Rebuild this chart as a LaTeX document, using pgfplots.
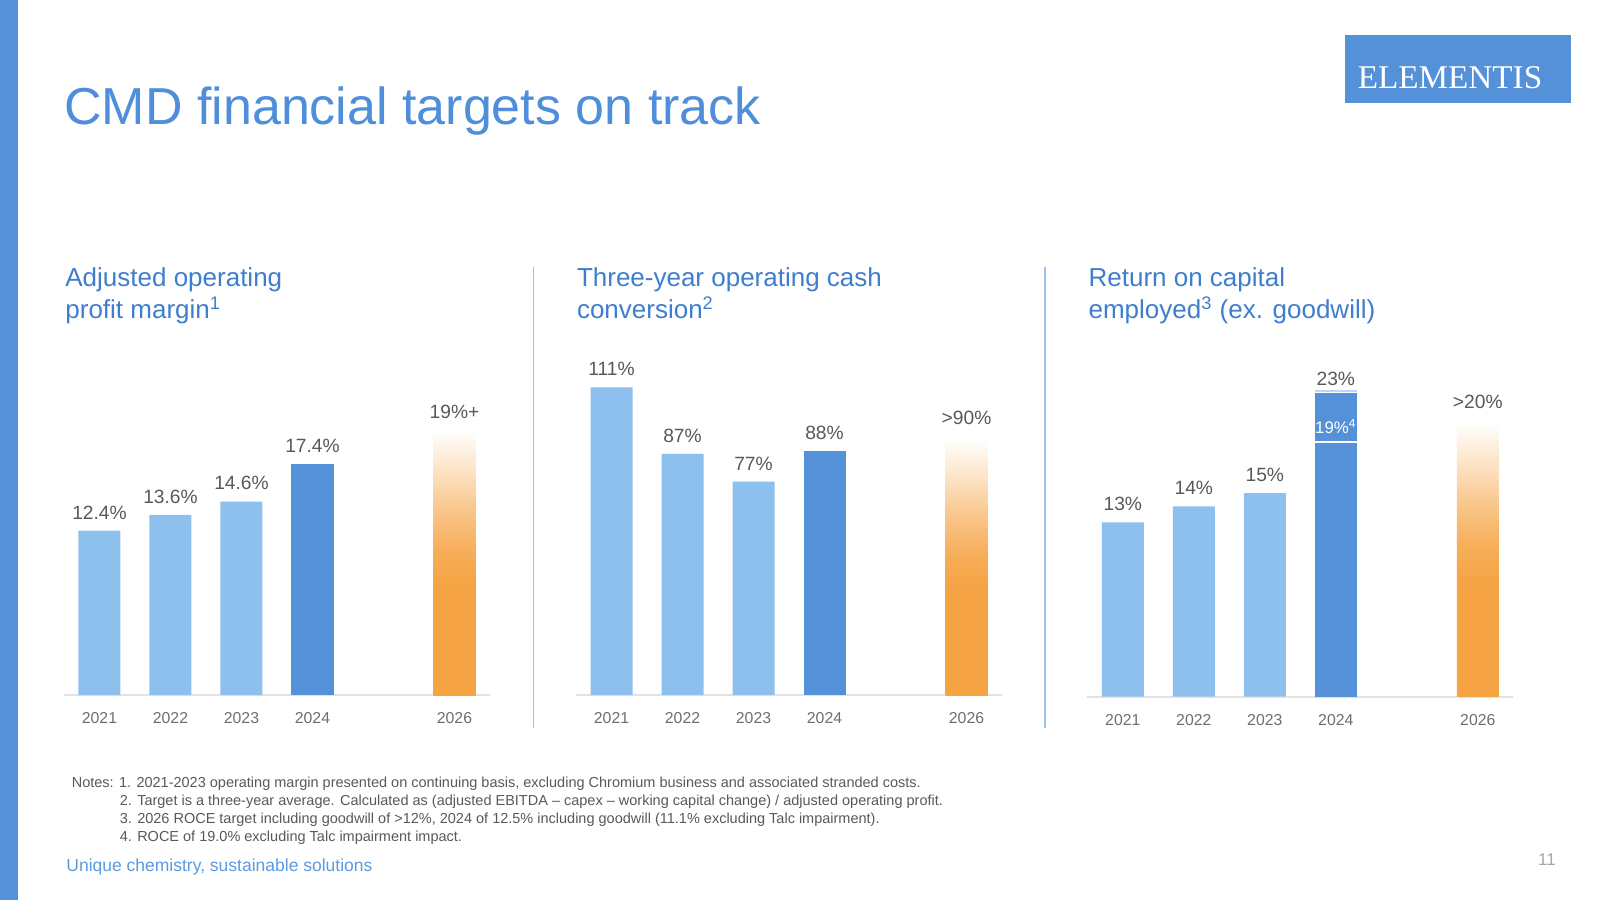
\documentclass[border=0pt]{standalone}
\usepackage{fontspec}
\setmainfont{Liberation Sans}
\newfontfamily\serifft{Liberation Serif}
\usepackage{pgfplots}
\pgfplotsset{compat=1.18}
\definecolor{strip}{HTML}{5591D9}
\definecolor{ttl}{HTML}{4F8EDB}
\definecolor{hdr}{HTML}{3E7ECF}
\definecolor{lb}{HTML}{8EC0EE}
\definecolor{db}{HTML}{5591D9}
\definecolor{orng}{HTML}{F5A343}
\colorlet{orngA}{orng!88!white}
\colorlet{orngB}{orng!62!white}
\colorlet{orngC}{orng!30!white}
\definecolor{txt}{HTML}{595959}
\definecolor{tickc}{HTML}{6E6E6E}
\definecolor{sep}{HTML}{9CC3EC}
\definecolor{basec}{HTML}{E3E3E3}
\definecolor{foot}{HTML}{5B9BE0}
\pgfdeclareverticalshading{orangefade}{100bp}{color(0bp)=(orng); color(25bp)=(orng); color(45.5bp)=(orng); color(52.5bp)=(orngA); color(60bp)=(orngB); color(67.5bp)=(orngC); color(75bp)=(white); color(100bp)=(white)}
\pgfplotsset{
  panel/.style={scale only axis, anchor=south west, axis x line*=bottom, axis y line=none,
    x axis line style={basec, line width=0.8pt}, xmin=-0.5, xmax=5.5, ymin=0,
    xtick={0,1,2,3,5}, xticklabels={2021,2022,2023,2024,2026}, major tick length=0pt,
    xticklabel style={font=\fontsize{7.9}{9}\selectfont, text=tickc, anchor=base, yshift=-14.3pt},
    clip=false, width=213pt},
  vbar/.style={ybar, bar width=21pt, draw=none, nodes near coords, point meta=explicit symbolic,
    every node near coord/.append style={font=\fontsize{9.6}{11}\selectfont, text=txt, inner sep=0pt, yshift=5.5pt}}
}
\begin{document}
\begin{tikzpicture}
\useasboundingbox (0,0) rectangle (800pt,450pt);
\fill[white] (0,0) rectangle (800pt,450pt);
\fill[strip] (0,0) rectangle (9pt,450pt);
% title
\node[anchor=base west, inner sep=0, text=ttl, font=\fontsize{26}{30}\selectfont] at (32pt,387.75pt) {CMD financial targets on track};
% logo
\fill[strip] (672.5pt,398.65pt) rectangle (785.5pt,432.5pt);
\node[anchor=base, inner sep=0, text=white, font=\serifft\fontsize{16.6}{18}\selectfont] at (725pt,405.5pt) {ELEMENTIS};
% separators
\draw[sep, line width=0.7pt] (266.65pt,316.65pt) -- (266.65pt,86.25pt);
\draw[sep, line width=0.7pt] (522.5pt,316.65pt) -- (522.5pt,86.25pt);
% headers
\begin{scope}[every node/.style={anchor=base west, inner sep=0, text=hdr, font=\fontsize{13}{15.8}\selectfont}]
\node at (32.5pt,306.65pt) {Adjusted operating};
\node at (32.5pt,290.85pt) {profit margin\textsuperscript{1}};
\node at (288.3pt,306.65pt) {Three-year operating cash};
\node at (288.3pt,290.85pt) {conversion\textsuperscript{2}};
\node at (544.1pt,306.65pt) {Return on capital};
\node at (544.1pt,290.85pt) {employed\textsuperscript{3} (ex. goodwill)};
\end{scope}
% panel 1
\begin{axis}[panel, at={(32pt,102.5pt)}, height=165.6pt, ymax=25]
\addplot[vbar, fill=lb] coordinates {(0,12.4) [12.4\%] (1,13.6) [13.6\%] (2,14.6) [14.6\%]};
\addplot[vbar, fill=db] coordinates {(3,17.4) [17.4\%]};
\addplot[vbar, shade, shading=orangefade] coordinates {(5,20) [19\%+]};
\end{axis}
% panel 2
\begin{axis}[panel, at={(288pt,102.5pt)}, height=166.3pt, ymax=120]
\addplot[vbar, fill=lb] coordinates {(0,111) [111\%] (1,87) [87\%] (2,77) [77\%]};
\addplot[vbar, fill=db] coordinates {(3,88) [88\%]};
\addplot[vbar, shade, shading=orangefade, every node near coord/.append style={yshift=1.2pt}] coordinates {(5,92.5) [>90\%]};
\end{axis}
% panel 3
\begin{axis}[panel, at={(543.65pt,101.65pt)}, height=167.5pt, ymax=25]
\addplot[vbar, fill=lb] coordinates {(0,13) [13\%] (1,14.2) [14\%] (2,15.2) [15\%]};
\addplot[vbar, fill=db, every node near coord/.append style={yshift=-2.4pt}] coordinates {(3,22.7) [23\%]};
\addplot[vbar, shade, shading=orangefade, every node near coord/.append style={yshift=0.8pt}] coordinates {(5,20.5) [>20\%]};
\addplot[white, line width=1pt, forget plot] coordinates {(2.705,19) (3.295,19)};
\addplot[lb!60, line width=0.6pt, forget plot] coordinates {(2.705,22.82) (3.295,22.82)};
\node[text=white, inner sep=0, font=\fontsize{8.4}{9}\selectfont] at (axis cs:3,20.15) {19\%\textsuperscript{4}};
\end{axis}
% notes
\begin{scope}[every node/.style={anchor=base west, inner sep=0, text=txt, font=\fontsize{7.25}{8}\selectfont}]
\node at (35.7pt,56.2pt) {Notes: 1. 2021-2023 operating margin presented on continuing basis, excluding Chromium business and associated stranded costs.};
\node at (59.7pt,47.25pt) {2. Target is a three-year average. Calculated as (adjusted EBITDA – capex – working capital change) / adjusted operating profit.};
\node at (59.7pt,38.3pt) {3. 2026 ROCE target including goodwill of >12\%, 2024 of 12.5\% including goodwill (11.1\% excluding Talc impairment).};
\node at (59.7pt,29.35pt) {4. ROCE of 19.0\% excluding Talc impairment impact.};
\end{scope}
\node[anchor=base west, inner sep=0, text=foot, font=\fontsize{8.75}{10}\selectfont] at (33pt,14.5pt) {Unique chemistry, sustainable solutions};
\node[anchor=base, inner sep=0, text=black!35, font=\fontsize{8.5}{10}\selectfont] at (773.5pt,17.5pt) {11};
\end{tikzpicture}
\end{document}
